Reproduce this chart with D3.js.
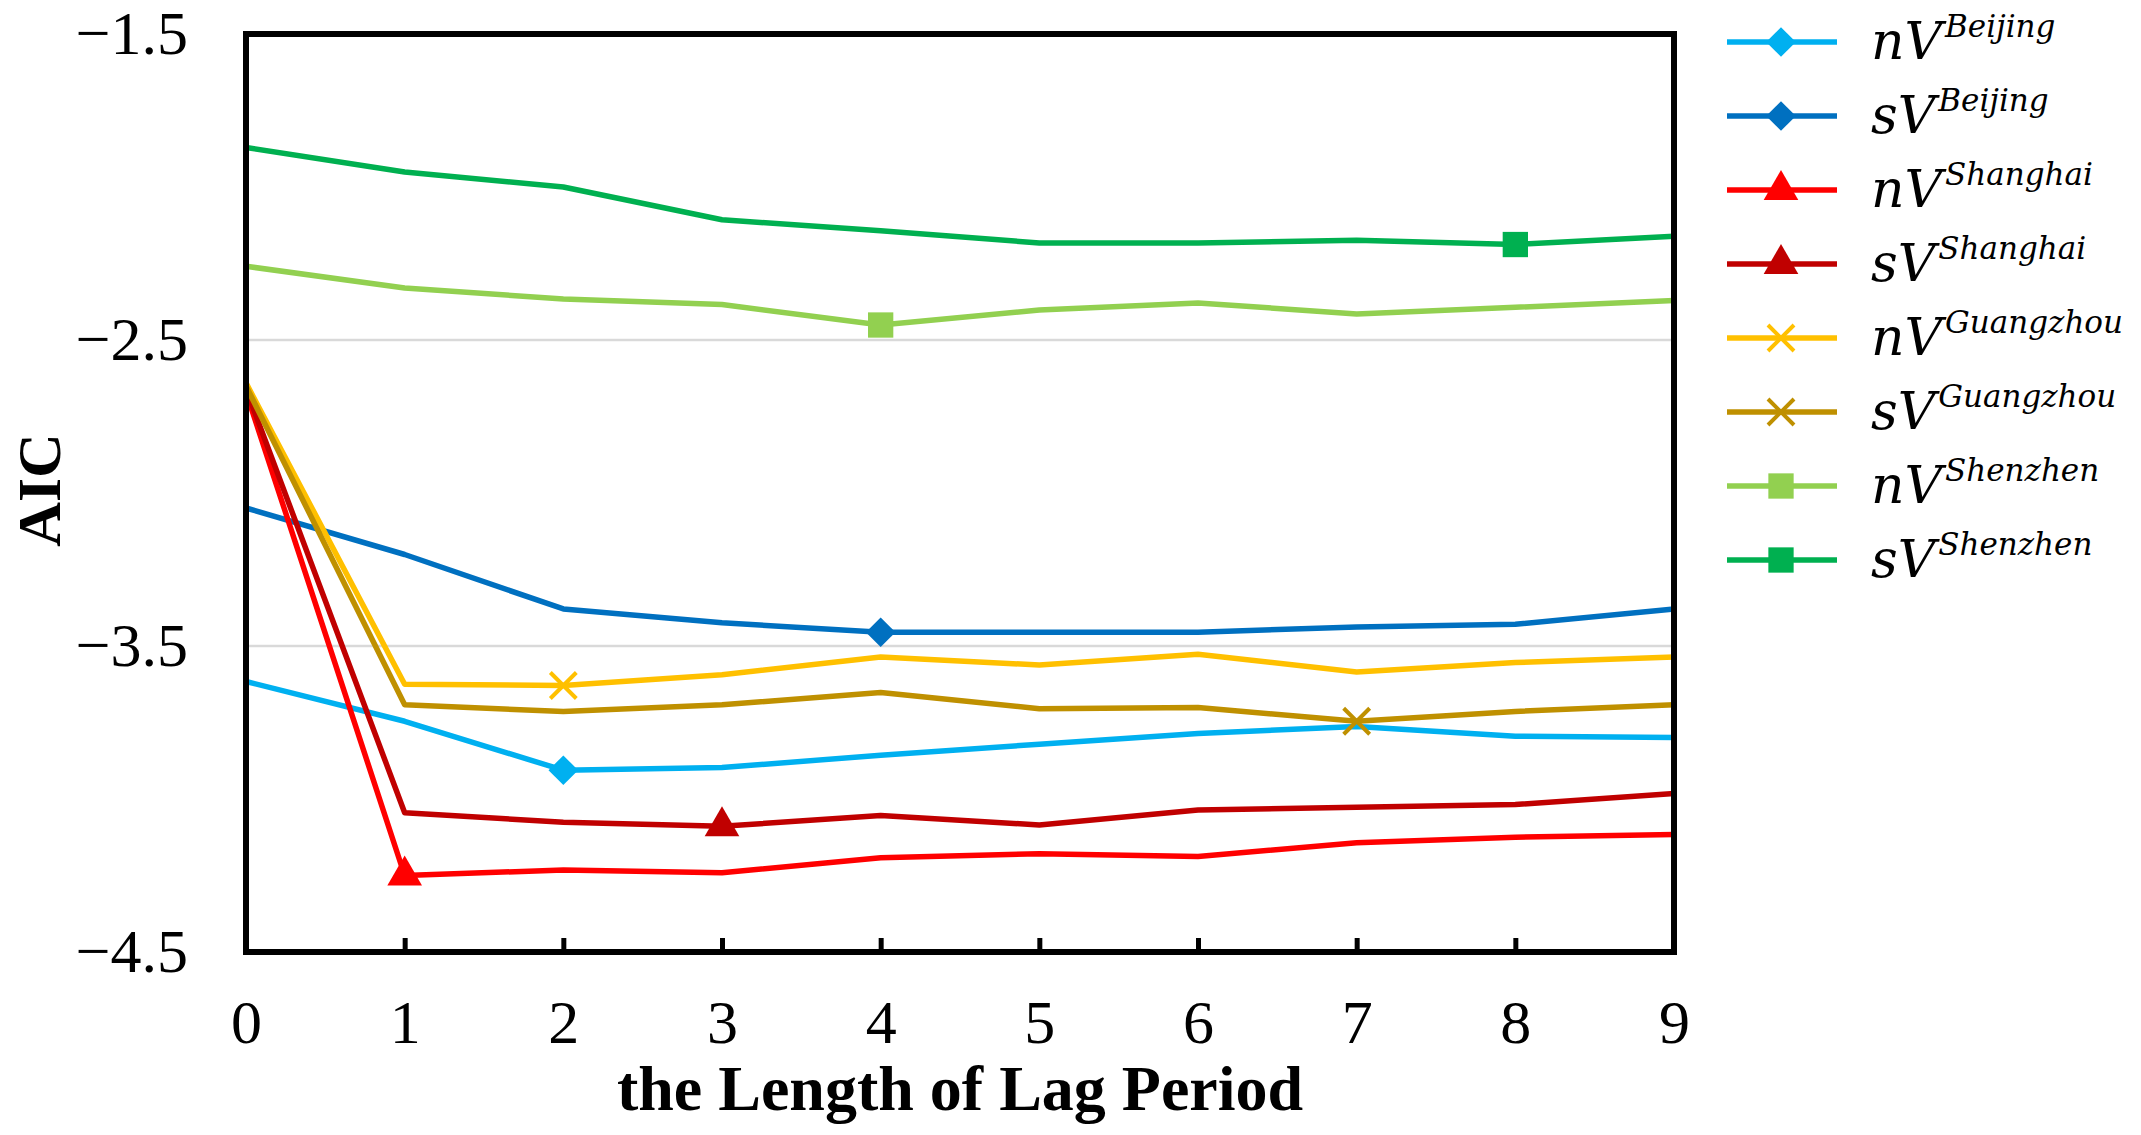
<!DOCTYPE html>
<html>
<head>
<meta charset="utf-8">
<script src="https://cdn.jsdelivr.net/npm/d3@7"></script>
<style>
  body { margin: 0; background: #fff; }
  .axis-title { font-family: "Liberation Serif", serif; font-weight: bold; fill: #000; }
  .legend-text { font-family: "DejaVu Serif", serif; font-style: italic; fill: #000; }
</style>
</head>
<body>
<div id="chart"></div>
<script>
// lag periods and y ticks
const lags = [0, 1, 2, 3, 4, 5, 6, 7, 8, 9];
const yTicks = [-1.5, -2.5, -3.5, -4.5];

// AIC values
const nvBeijing   = [-3.616, -3.746, -3.906, -3.897, -3.857, -3.821, -3.786, -3.763, -3.795, -3.799];
const svBeijing   = [-3.049, -3.201, -3.379, -3.424, -3.455, -3.455, -3.455, -3.438, -3.429, -3.379];
const nvShanghai  = [-2.67, -4.25, -4.232, -4.241, -4.192, -4.179, -4.188, -4.143, -4.125, -4.116];
const svShanghai  = [-2.66, -4.045, -4.076, -4.089, -4.054, -4.085, -4.036, -4.027, -4.018, -3.982];
const nvGuangzhou = [-2.64, -3.625, -3.629, -3.594, -3.536, -3.562, -3.527, -3.585, -3.554, -3.536];
const svGuangzhou = [-2.65, -3.692, -3.714, -3.692, -3.652, -3.705, -3.701, -3.746, -3.714, -3.692];
const nvShenzhen  = [-2.259, -2.330, -2.366, -2.384, -2.451, -2.402, -2.379, -2.415, -2.393, -2.371];
const svShenzhen  = [-1.871, -1.951, -2.000, -2.107, -2.143, -2.183, -2.183, -2.174, -2.188, -2.161];

// series meta
const seriesPrefix = ['n', 's', 'n', 's', 'n', 's', 'n', 's'];
const seriesCity = ['Beijing', 'Beijing', 'Shanghai', 'Shanghai', 'Guangzhou', 'Guangzhou', 'Shenzhen', 'Shenzhen'];
const seriesValues = [nvBeijing, svBeijing, nvShanghai, svShanghai, nvGuangzhou, svGuangzhou, nvShenzhen, svShenzhen];
const seriesColor = ['#00B0F0', '#0070C0', '#FF0000', '#C00000', '#FFC000', '#BF9000', '#92D050', '#00B050'];
const seriesMarker = ['diamond', 'diamond', 'triangle', 'triangle', 'x', 'x', 'square', 'square'];
// lag that carries the marker (minimum AIC)
const bestLag = [2, 4, 1, 3, 2, 7, 4, 8];

const W = 2141;
const H = 1135;
const margin = { left: 246, top: 34, right: 2141 - 1674, bottom: 1135 - 952 };
const serif = '"Liberation Serif", "Times New Roman", serif';

const svg = d3.select('#chart').append('svg')
  .attr('width', W)
  .attr('height', H);

const x = d3.scaleLinear().domain([0, 9]).range([margin.left, W - margin.right]);
const y = d3.scaleLinear().domain([-4.5, -1.5]).range([H - margin.bottom, margin.top]);

// gridlines
svg.append('g')
  .selectAll('line')
  .data([-2.5, -3.5])
  .join('line')
  .attr('x1', x(0)).attr('x2', x(9))
  .attr('y1', d => y(d)).attr('y2', d => y(d))
  .attr('stroke', '#d9d9d9')
  .attr('stroke-width', 2.5);

// marker shape helper
function markerPath(type) {
  if (type === 'diamond') return d3.symbol(d3.symbolSquare, 440)();
  if (type === 'triangle') return d3.symbol(d3.symbolTriangle, 520)();
  if (type === 'square') return d3.symbol(d3.symbolSquare, 640)();
  return 'M-13,-13L13,13M-13,13L13,-13';
}
function drawMarker(g, type, color) {
  const p = g.append('path').attr('d', markerPath(type));
  if (type === 'x') {
    p.attr('fill', 'none').attr('stroke', color).attr('stroke-width', 4);
  } else {
    p.attr('fill', color);
    if (type === 'diamond') p.attr('transform', 'rotate(45)');
  }
}

// lines
const line = d3.line()
  .x((d, i) => x(lags[i]))
  .y(d => y(d));

const $series = svg.append('g').attr('class', 'g-series')
  .selectAll('g')
  .data(seriesValues)
  .join('g');

$series.append('path')
  .attr('d', d => line(d))
  .attr('fill', 'none')
  .attr('stroke', (d, i) => seriesColor[i])
  .attr('stroke-width', 5.5)
  .attr('stroke-linejoin', 'round');

$series.each(function(d, i) {
  const k = bestLag[i];
  const g = d3.select(this).append('g')
    .attr('transform', `translate(${x(lags[k])},${y(d[k])})`);
  drawMarker(g, seriesMarker[i], seriesColor[i]);
});

// frame
svg.append('rect')
  .attr('x', x(0)).attr('y', y(-1.5))
  .attr('width', x(9) - x(0)).attr('height', y(-4.5) - y(-1.5))
  .attr('fill', 'none')
  .attr('stroke', '#000')
  .attr('stroke-width', 6);

// x axis
const xAxis = svg.append('g')
  .attr('transform', `translate(0,${y(-4.5)})`)
  .call(d3.axisBottom(x).tickValues(lags).tickFormat(d3.format('d')).tickSizeInner(-14).tickSizeOuter(0).tickPadding(0));
xAxis.select('.domain').remove();
xAxis.selectAll('.tick line').attr('stroke', '#000').attr('stroke-width', 5)
  .attr('opacity', d => (d === 0 || d === 9) ? 0 : 1);
xAxis.selectAll('.tick text')
  .attr('y', 91)
  .attr('dy', null)
  .style('font-family', serif)
  .style('font-size', '62px')
  .style('fill', '#000');

// y axis
const yAxis = svg.append('g')
  .attr('transform', `translate(${x(0)},0)`)
  .call(d3.axisLeft(y).tickValues(yTicks).tickFormat(d3.format('.1f')).tickSize(0).tickPadding(58));
yAxis.select('.domain').remove();
yAxis.selectAll('.tick text')
  .style('font-family', serif)
  .style('font-size', '62px')
  .style('fill', '#000');

// axis titles
svg.append('text')
  .attr('class', 'axis-title')
  .attr('x', (x(0) + x(9)) / 2)
  .attr('y', 1110)
  .attr('text-anchor', 'middle')
  .style('font-size', '64px')
  .text('the Length of Lag Period');

svg.append('text')
  .attr('class', 'axis-title')
  .attr('transform', `translate(60,${(y(-1.5) + y(-4.5)) / 2 - 3}) rotate(-90)`)
  .attr('text-anchor', 'middle')
  .style('font-size', '62px')
  .text('AIC');

// legend
const legend = svg.append('g').attr('class', 'g-legend')
  .selectAll('g')
  .data(seriesCity)
  .join('g')
  .attr('transform', (d, i) => `translate(1727,${42 + i * 74})`);

legend.append('line')
  .attr('x1', 0).attr('x2', 110)
  .attr('stroke', (d, i) => seriesColor[i])
  .attr('stroke-width', 5.5);

legend.each(function(d, i) {
  const g = d3.select(this).append('g').attr('transform', 'translate(54,0)');
  drawMarker(g, seriesMarker[i], seriesColor[i]);
});

const lt = legend.append('text')
  .attr('class', 'legend-text')
  .attr('x', 144)
  .attr('y', 17);
lt.append('tspan')
  .style('font-size', '52px')
  .text((d, i) => seriesPrefix[i] + 'V');
lt.append('tspan')
  .style('font-size', '31px')
  .attr('dy', -22)
  .attr('dx', 3)
  .text(d => d);
</script>
</body>
</html>
